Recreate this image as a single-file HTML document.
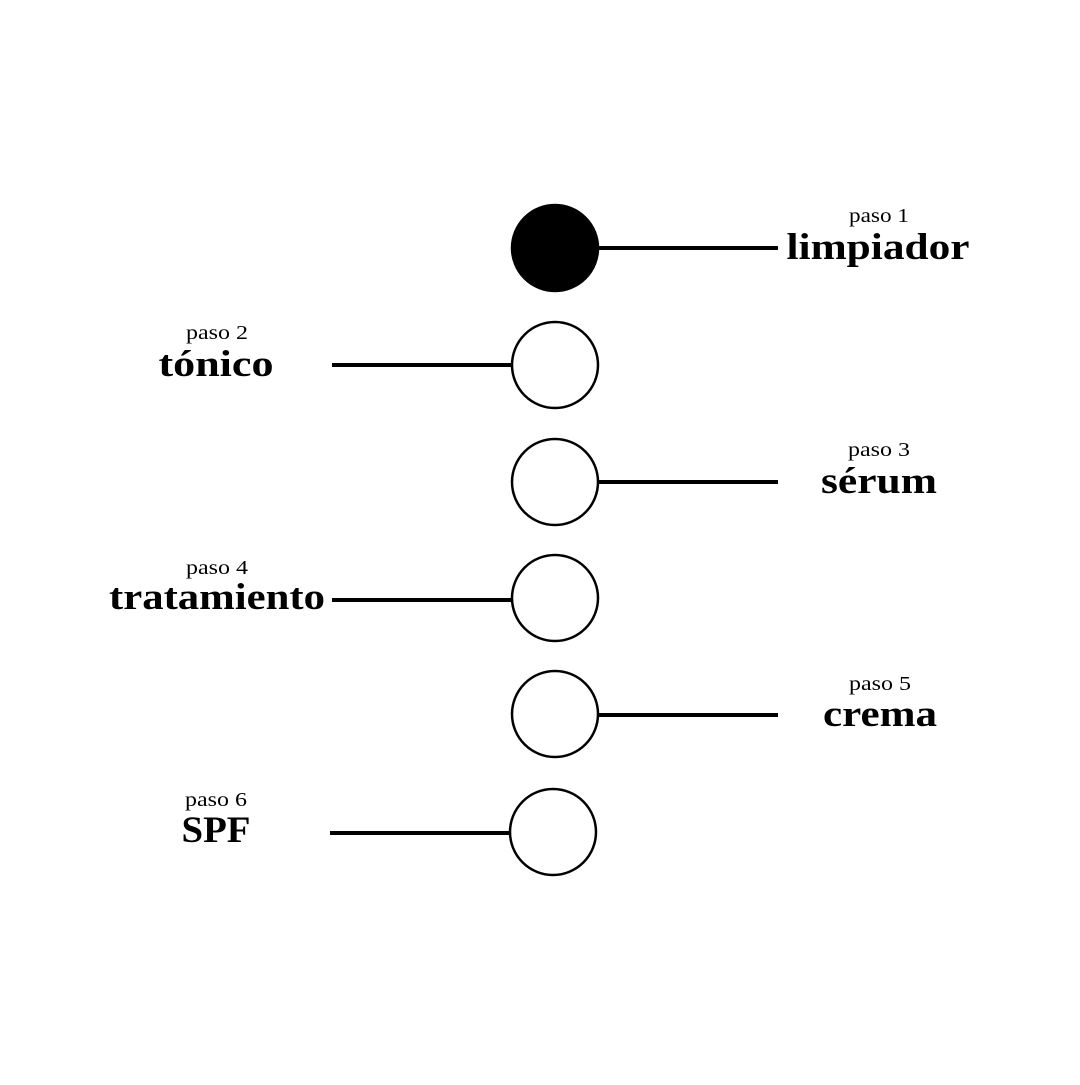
<!DOCTYPE html>
<html><head><meta charset="utf-8"><style>html,body{margin:0;padding:0;background:#fff}</style></head>
<body>
<svg width="1080" height="1080" viewBox="0 0 1080 1080" xmlns="http://www.w3.org/2000/svg">
<rect width="1080" height="1080" fill="#fff"/>
<g stroke="#000" stroke-width="4">
<line x1="598" y1="248" x2="778" y2="248"/>
<line x1="332" y1="365" x2="512" y2="365"/>
<line x1="598" y1="482" x2="778" y2="482"/>
<line x1="332" y1="600" x2="512" y2="600"/>
<line x1="598" y1="715" x2="778" y2="715"/>
<line x1="330" y1="833" x2="510" y2="833"/>
</g>
<g stroke="#000" stroke-width="2.5" fill="#fff">
<circle cx="555" cy="248" r="43" fill="#000"/>
<circle cx="555" cy="365" r="43"/>
<circle cx="555" cy="482" r="43"/>
<circle cx="555" cy="598" r="43"/>
<circle cx="555" cy="714" r="43"/>
<circle cx="553" cy="832" r="43"/>
</g>
<g font-family="Liberation Serif, serif" fill="#000" text-anchor="middle">
<g font-size="20">
<text x="879" y="222" textLength="60" lengthAdjust="spacingAndGlyphs">paso 1</text>
<text x="217" y="339" textLength="62" lengthAdjust="spacingAndGlyphs">paso 2</text>
<text x="879" y="456" textLength="62" lengthAdjust="spacingAndGlyphs">paso 3</text>
<text x="217" y="574" textLength="62" lengthAdjust="spacingAndGlyphs">paso 4</text>
<text x="880" y="690" textLength="62" lengthAdjust="spacingAndGlyphs">paso 5</text>
<text x="216" y="806" textLength="62" lengthAdjust="spacingAndGlyphs">paso 6</text>
</g>
<g font-size="37" font-weight="bold">
<text x="878" y="259" textLength="183" lengthAdjust="spacingAndGlyphs">limpiador</text>
<text x="216" y="376" textLength="115" lengthAdjust="spacingAndGlyphs">tónico</text>
<text x="879" y="493" textLength="116" lengthAdjust="spacingAndGlyphs">sérum</text>
<text x="217" y="609" textLength="216" lengthAdjust="spacingAndGlyphs">tratamiento</text>
<text x="880" y="726" textLength="114" lengthAdjust="spacingAndGlyphs">crema</text>
<text x="216" y="842" textLength="69" lengthAdjust="spacingAndGlyphs">SPF</text>
</g>
</g>
</svg>
</body></html>
